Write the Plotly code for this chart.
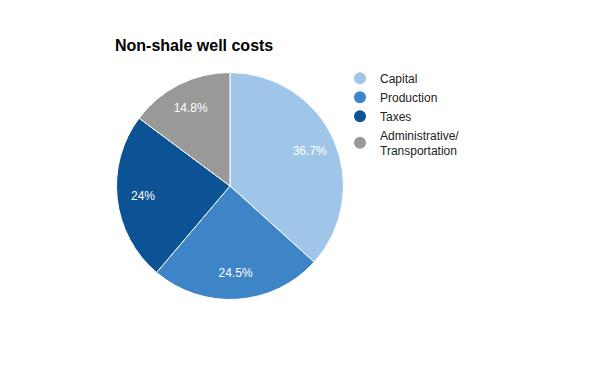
import plotly.graph_objects as go

categories = ["Capital", "Production", "Taxes", "Administrative/<br>Transportation"]
values = [36.7, 24.5, 24, 14.8]
value_labels = ["36.7%", "24.5%", "24%", "14.8%"]
colors = ["#9fc5e8", "#3d85c6", "#0b5394", "#999999"]

W, H = 600, 371
FONT = "Arial, Liberation Sans, sans-serif"
OFF = 8  # page body margin in the rendered page

# pie geometry (screen px)
cx, cy, r = 230 - OFF, 186 - OFF, 113.5
dom = dict(x=[(cx - r) / W, (cx + r) / W], y=[1 - (cy + r) / H, 1 - (cy - r) / H])

fig = go.Figure()
# filled pie
fig.add_trace(go.Pie(
    labels=categories, values=values,
    textinfo="none",
    marker=dict(colors=colors, line=dict(color="white", width=1)),
    sort=False, direction="clockwise", rotation=0,
    showlegend=False, hoverinfo="label+percent",
    domain=dom,
))
# transparent ring carrying the value labels at ~0.77 r
fig.add_trace(go.Pie(
    labels=categories, values=values,
    text=value_labels, textinfo="text",
    textposition="inside", insidetextorientation="horizontal",
    textfont=dict(color="white", size=12, family=FONT),
    marker=dict(colors=["rgba(0,0,0,0)"] * len(values), line=dict(width=0)),
    sort=False, direction="clockwise", rotation=0, hole=0.54,
    showlegend=False, hoverinfo="skip",
    domain=dom,
))

for c, col in zip(categories, colors):
    fig.add_trace(go.Scatter(
        x=[None], y=[None], mode="markers", name=c,
        marker=dict(symbol="circle", size=12, color=col),
    ))

fig.update_layout(
    width=W, height=H,
    margin=dict(l=0, r=0, t=0, b=0),
    paper_bgcolor="white", plot_bgcolor="white",
    title=dict(text="<b>Non-shale well costs</b>", x=(115 - OFF) / W, xanchor="left",
               y=1 - (45 - OFF) / H, yanchor="middle",
               font=dict(family=FONT, size=16, color="#000000")),
    xaxis=dict(visible=False), yaxis=dict(visible=False),
    legend=dict(x=(340 - OFF) / W, xanchor="left", y=1 - (63.7 - OFF) / H, yanchor="top",
                font=dict(family=FONT, size=12, color="#222222"),
                itemsizing="constant", tracegroupgap=0, bgcolor="rgba(0,0,0,0)"),
    showlegend=True,
)

fig.write_html("out.html")
